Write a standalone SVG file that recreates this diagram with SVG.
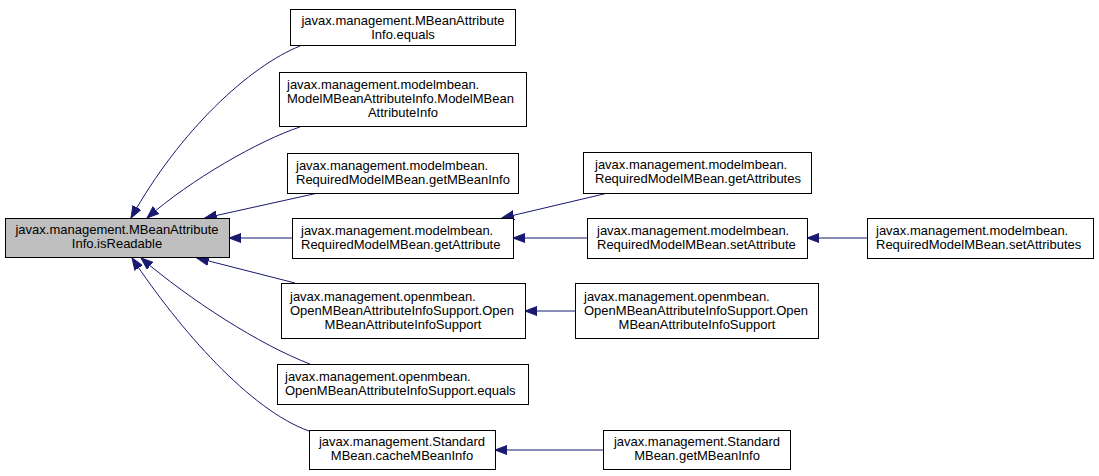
<svg xmlns="http://www.w3.org/2000/svg" width="1099" height="476" viewBox="0 0 1099 476">
<style>
.n rect{fill:#ffffff;stroke:#000000;stroke-width:1}
.n.main rect{fill:#bfbfbf}
.n text{font-family:"Liberation Sans",Arial,sans-serif;font-size:13px;fill:#000000}
.c{text-anchor:middle}
.e path{fill:none;stroke:#191970;stroke-width:1;marker-end:url(#ah)}
</style>
<defs>
<marker id="ah" markerUnits="userSpaceOnUse" markerWidth="13" markerHeight="10" refX="12" refY="5" orient="auto">
<path d="M0,0.5 L12,5 L0,9.5 z" fill="#191970" stroke="#191970" stroke-width="1"/>
</marker>
</defs>
<rect width="1099" height="476" fill="#ffffff"/>
<g class="e" id="edges">
<path d="M300,46 C250,66 180,130 131,218"/>
<path d="M300,127 C260,140 190,180 147,218"/>
<path d="M318,193 L205,218"/>
<path d="M292,238 L229,238"/>
<path d="M295,283 L197,258"/>
<path d="M310,364 C260,345 190,300 141,258"/>
<path d="M309,431 C250,410 180,330 132,258"/>
<path d="M608,193 L502,218"/>
<path d="M587,238 L513,238"/>
<path d="M867,238 L807,238"/>
<path d="M575,311 L525,311"/>
<path d="M603,450 L495,450"/>
</g>
<g class="n main" id="n0">
<rect x="5.5" y="218.5" width="224" height="39"/>
<text class="c" x="117" y="234">javax.management.MBeanAttribute</text>
<text class="c" x="117" y="248">Info.isReadable</text>
</g>
<g class="n" id="n1">
<rect x="290.5" y="9.5" width="225" height="36"/>
<text class="c" x="403" y="25">javax.management.MBeanAttribute</text>
<text class="c" x="403" y="39">Info.equals</text>
</g>
<g class="n" id="n2">
<rect x="279.5" y="72.5" width="247" height="54"/>
<text x="287" y="89">javax.management.modelmbean.</text>
<text x="287" y="103">ModelMBeanAttributeInfo.ModelMBean</text>
<text class="c" x="403" y="117">AttributeInfo</text>
</g>
<g class="n" id="n3">
<rect x="287.5" y="153.5" width="231" height="40"/>
<text x="296" y="170">javax.management.modelmbean.</text>
<text x="296" y="184">RequiredModelMBean.getMBeanInfo</text>
</g>
<g class="n" id="n4">
<rect x="292.5" y="218.5" width="221" height="40"/>
<text x="301" y="235">javax.management.modelmbean.</text>
<text x="301" y="249">RequiredModelMBean.getAttribute</text>
</g>
<g class="n" id="n5">
<rect x="281.5" y="283.5" width="244" height="55"/>
<text x="290" y="301">javax.management.openmbean.</text>
<text x="290" y="315">OpenMBeanAttributeInfoSupport.Open</text>
<text class="c" x="403" y="329">MBeanAttributeInfoSupport</text>
</g>
<g class="n" id="n6">
<rect x="277.5" y="364.5" width="251" height="40"/>
<text x="285" y="381">javax.management.openmbean.</text>
<text x="285" y="395">OpenMBeanAttributeInfoSupport.equals</text>
</g>
<g class="n" id="n7">
<rect x="309.5" y="430.5" width="186" height="39"/>
<text class="c" x="402" y="446">javax.management.Standard</text>
<text class="c" x="402" y="460">MBean.cacheMBeanInfo</text>
</g>
<g class="n" id="n8">
<rect x="583.5" y="152.5" width="228" height="41"/>
<text x="595" y="169">javax.management.modelmbean.</text>
<text x="595" y="183">RequiredModelMBean.getAttributes</text>
</g>
<g class="n" id="n9">
<rect x="587.5" y="218.5" width="220" height="40"/>
<text x="597" y="235">javax.management.modelmbean.</text>
<text x="597" y="249">RequiredModelMBean.setAttribute</text>
</g>
<g class="n" id="n10">
<rect x="575.5" y="283.5" width="243" height="55"/>
<text x="584" y="301">javax.management.openmbean.</text>
<text x="584" y="315">OpenMBeanAttributeInfoSupport.Open</text>
<text class="c" x="697" y="329">MBeanAttributeInfoSupport</text>
</g>
<g class="n" id="n11">
<rect x="603.5" y="430.5" width="187" height="39"/>
<text class="c" x="697" y="446">javax.management.Standard</text>
<text class="c" x="697" y="460">MBean.getMBeanInfo</text>
</g>
<g class="n" id="n12">
<rect x="867.5" y="218.5" width="226" height="40"/>
<text x="876" y="235">javax.management.modelmbean.</text>
<text x="876" y="249">RequiredModelMBean.setAttributes</text>
</g>
</svg>
